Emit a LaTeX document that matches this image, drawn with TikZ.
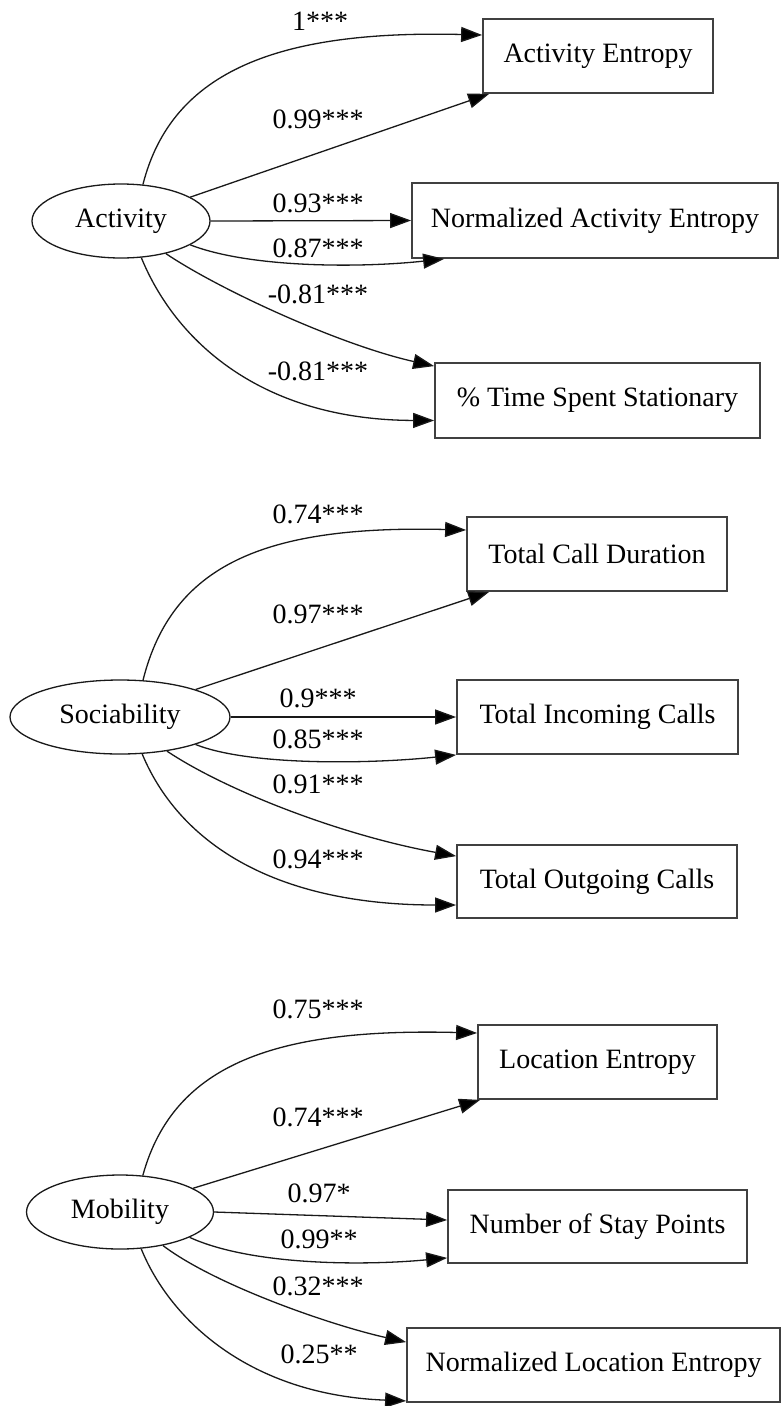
\documentclass[tikz,border=0pt]{standalone}
\usepackage{fontspec}
\setmainfont{Liberation Serif}
\usetikzlibrary{shapes.geometric,arrows.meta}
\begin{document}
\begin{tikzpicture}[x=1pt,y=-1pt,
  every node/.style={font=\fontsize{28}{34}\selectfont},
  latent/.style={ellipse,draw=black!90,line width=1.3pt,inner sep=0pt,minimum height=74pt},
  obs/.style={rectangle,draw=black!75,line width=1.8pt,inner sep=0pt,minimum height=74pt},
  link/.style={draw=black!90,line width=1.3pt,-{Triangle[length=21pt,width=15pt,fill=black]}},
  lbl/.style={anchor=base,inner sep=0pt}]
\useasboundingbox (0,0) rectangle (780,1406);
\fill[white] (0,0) rectangle (780,1406);

% ---------- Block 1: Activity ----------
\node[latent,minimum width=178pt] (act) at (121,221) {Activity};
\node[obs,minimum width=230pt] (ae) at (598,56) {Activity Entropy};
\node[obs,minimum width=366pt,minimum height=75pt] (nae) at (595,220.5) {Normalized Activity Entropy};
\node[obs,minimum width=325pt,minimum height=75pt] (tss) at (597.5,400.5) {\% Time Spent Stationary};

\draw[link] (act.59) .. controls (172,70) and (280,30) .. ([yshift=21pt]ae.west);
\draw[link] (act.19) -- ([xshift=7pt]ae.south west);
\draw[link] (act.east) -- (nae.west);
\draw[link] (act.-19) .. controls (250,268) and (360,268) .. ([xshift=33pt]nae.south west);
\draw[link] (act.-36) .. controls (220,290) and (340,345) .. ([yshift=-4pt]tss.north west);
\draw[link] (act.-61) .. controls (175,340) and (260,420) .. ([yshift=-20pt]tss.west);

\node[lbl] (a1) at (320,30) {1***};
\node[lbl] (a2) at (318,128) {0.99***};
\node[lbl] (a3) at (318,212) {0.93***};
\node[lbl] (a4) at (318,257) {0.87***};
\node[lbl] (a5) at (318,303) {-0.81***};
\node[lbl] (a6) at (318,380) {-0.81***};

% ---------- Block 2: Sociability ----------
\node[latent,minimum width=220pt] (soc) at (120,717) {Sociability};
\node[obs,minimum width=260pt] (tcd) at (597,554) {Total Call Duration};
\node[obs,minimum width=281pt] (tic) at (597.5,717) {Total Incoming Calls};
\node[obs,minimum width=280pt,minimum height=73pt] (toc) at (597,881.5) {Total Outgoing Calls};

\draw[link] (soc.58) .. controls (172,565) and (264,525) .. ([yshift=24pt]tcd.west);
\draw[link] (soc.20) -- ([xshift=23pt]tcd.south west);
\draw[link] (soc.east) -- (tic.west);
\draw[link] (soc.-20) .. controls (250,766) and (370,764) .. (tic.south west);
\draw[link] (soc.-36) .. controls (225,790) and (340,835) .. ([yshift=-12pt]toc.north west);
\draw[link] (soc.-59) .. controls (178,840) and (270,905) .. ([yshift=-23.5pt]toc.west);

\node[lbl] (s1) at (318,523) {0.74***};
\node[lbl] (s2) at (318,623) {0.97***};
\node[lbl] (s3) at (318,707) {0.9***};
\node[lbl] (s4) at (318,748) {0.85***};
\node[lbl] (s5) at (318,793) {0.91***};
\node[lbl] (s6) at (318,868) {0.94***};

% ---------- Block 3: Mobility ----------
\node[latent,minimum width=187pt] (mob) at (120,1212) {Mobility};
\node[obs,minimum width=239pt] (le) at (597.5,1062) {Location Entropy};
\node[obs,minimum width=299pt,minimum height=73pt] (nsp) at (597.5,1226.5) {Number of Stay Points};
\node[obs,minimum width=373pt] (nle) at (593.5,1365) {Normalized Location Entropy};

\draw[link] (mob.58) .. controls (174,1062) and (279,1028) .. ([yshift=29pt]le.west);
\draw[link] (mob.18) -- ([xshift=3pt]le.south west);
\draw[link] (mob.east) -- ([yshift=6.5pt]nsp.west);
\draw[link] (mob.-20) .. controls (250,1265) and (360,1266) .. ([yshift=6pt]nsp.south west);
\draw[link] (mob.-38) .. controls (215,1285) and (330,1325) .. ([yshift=-15pt]nle.north west);
\draw[link] (mob.-60) .. controls (170,1320) and (250,1395) .. ([yshift=2pt]nle.south west);

\node[lbl] (m1) at (318,1018) {0.75***};
\node[lbl] (m2) at (318,1126) {0.74***};
\node[lbl] (m3) at (319,1202) {0.97*};
\node[lbl] (m4) at (319,1248) {0.99**};
\node[lbl] (m5) at (318,1295) {0.32***};
\node[lbl] (m6) at (319,1363) {0.25**};
\end{tikzpicture}
\end{document}
